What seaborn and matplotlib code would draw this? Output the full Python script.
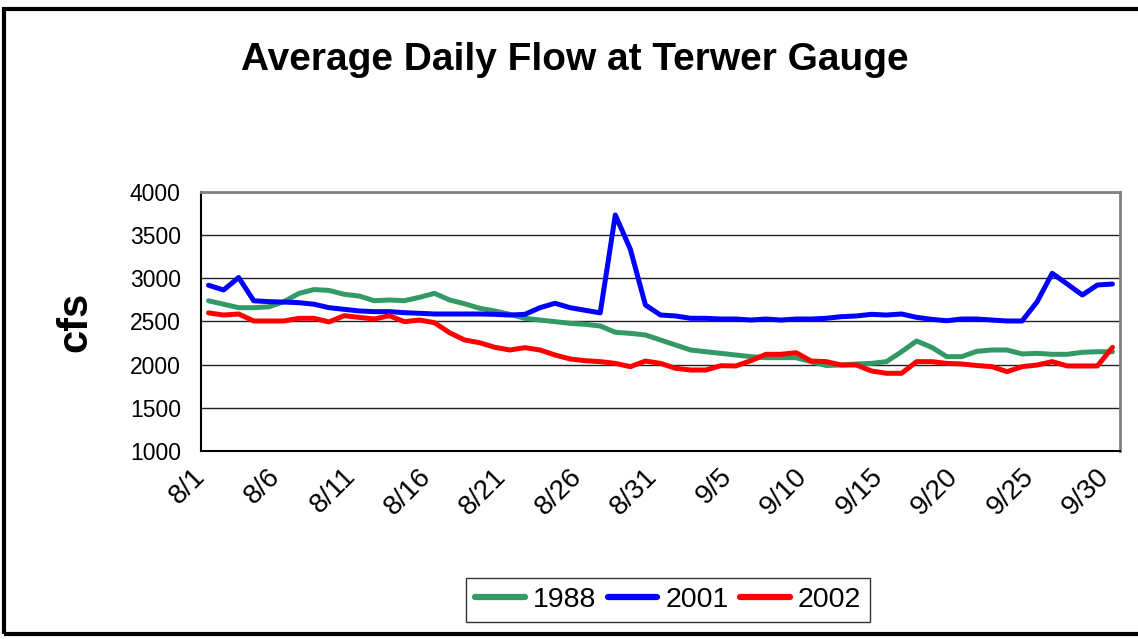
import numpy as np
import pandas as pd
import matplotlib
matplotlib.use("Agg")
import matplotlib.pyplot as plt
import matplotlib.transforms as mtransforms
from matplotlib.patches import Rectangle
from matplotlib.lines import Line2D
import seaborn as sns

# ---- data -------------------------------------------------------------
days = [d.strftime("%-m/%-d") for d in pd.date_range("2002-08-01", "2002-09-30")]

flow_1988 = [2740, 2700, 2660, 2660, 2670, 2730, 2825, 2870, 2860, 2815,
             2795, 2741, 2749, 2741, 2780, 2826, 2749, 2705, 2653, 2622,
             2583, 2537, 2517, 2498, 2479, 2467, 2448, 2375, 2363, 2344,
             2286, 2228, 2170, 2150, 2131, 2112, 2093, 2081, 2081, 2081,
             2035, 1990, 1996, 2008, 2015, 2035, 2150, 2274, 2201, 2093,
             2093, 2155, 2170, 2170, 2124, 2131, 2120, 2120, 2143, 2150,
             2150]
flow_2001 = [2920, 2865, 3010, 2740, 2730, 2725, 2718, 2700, 2660, 2641,
             2622, 2614, 2614, 2602, 2595, 2587, 2587, 2587, 2587, 2583,
             2575, 2583, 2660, 2711, 2660, 2630, 2600, 3734, 3336, 2691,
             2575, 2564, 2537, 2537, 2529, 2529, 2517, 2529, 2517, 2529,
             2529, 2537, 2556, 2564, 2583, 2575, 2587, 2548, 2525, 2509,
             2529, 2529, 2517, 2506, 2506, 2729, 3058, 2934, 2807, 2923,
             2934]
flow_2002 = [2600, 2575, 2587, 2506, 2506, 2506, 2537, 2537, 2495, 2567,
             2548, 2529, 2567, 2498, 2517, 2486, 2370, 2286, 2254, 2201,
             2170, 2197, 2170, 2112, 2066, 2046, 2035, 2015, 1977, 2042,
             2015, 1958, 1938, 1938, 1988, 1985, 2046, 2120, 2120, 2139,
             2042, 2035, 1996, 1996, 1927, 1900, 1900, 2035, 2035, 2015,
             2008, 1990, 1977, 1919, 1977, 1996, 2035, 1985, 1985, 1985,
             2201]

years = ["1988", "2001", "2002"]
colors = ["#339966", "#0000FF", "#FF0000"]
tick_labels = ["8/1", "8/6", "8/11", "8/16", "8/21", "8/26", "8/31",
               "9/5", "9/10", "9/15", "9/20", "9/25", "9/30"]
y_ticks = [1000, 1500, 2000, 2500, 3000, 3500, 4000]

# ---- styling ----------------------------------------------------------
sns.set_style("white")
plt.rcParams["font.family"] = ["Liberation Sans", "DejaVu Sans"]
for k in ["text.color", "axes.labelcolor", "xtick.color", "ytick.color"]:
    plt.rcParams[k] = "black"

W, H = 1138, 639
fig = plt.figure(figsize=(W / 100, H / 100), dpi=100)
fig.patch.set_facecolor("white")

ax = fig.add_axes([201 / W, 1 - 451 / H, (1120 - 201) / W, (451 - 192) / H])

n = len(days)
df = pd.DataFrame({
    "pos": np.tile(np.arange(n) + 0.5, 3),
    "flow": flow_1988 + flow_2001 + flow_2002,
    "year": np.repeat(years, n),
})

sns.lineplot(data=df, x="pos", y="flow", hue="year", palette=colors,
             linewidth=3.6, ax=ax, legend=False, solid_capstyle="round",
             solid_joinstyle="round")

ax.set_xlim(0, n)
ax.set_ylim(1000, 4000)
ax.set_xticks(np.arange(0, n, 5))
ax.set_xticklabels(tick_labels, rotation=45, ha="right", va="center",
                   rotation_mode="anchor", fontsize=20)
shift = mtransforms.ScaledTranslation(-8 / 100, -1 / 100, fig.dpi_scale_trans)
for lab in ax.get_xticklabels():
    lab.set_transform(lab.get_transform() + shift)
ax.set_yticks(y_ticks)
ax.set_yticklabels([str(v) for v in y_ticks], fontsize=16.5)
ax.tick_params(axis="both", direction="out", length=6.5, width=1, color="black")
ax.tick_params(axis="x", pad=9)
ax.tick_params(axis="y", pad=8)
ax.set_xlabel("")
ax.set_ylabel("cfs", fontsize=30, fontweight="bold", labelpad=25)

ax.yaxis.grid(True, color="#222222", linewidth=1.0)
ax.xaxis.grid(False)
ax.set_axisbelow(True)
for side in ["left", "bottom"]:
    ax.spines[side].set_color("black")
    ax.spines[side].set_linewidth(1.5)
for side in ["top", "right"]:
    ax.spines[side].set_color("#808080")
    ax.spines[side].set_linewidth(2)

fig.text(575 / W, 1 - 60 / H, "Average Daily Flow at Terwer Gauge",
         ha="center", va="center", fontsize=28, fontweight="bold")

handles = [Line2D([], [], color=c, linewidth=4.5, solid_capstyle="round") for c in colors]
leg = fig.legend(handles, years, loc="center",
                 bbox_to_anchor=(668 / W, 1 - 600 / H), ncol=3,
                 frameon=True, fancybox=False, edgecolor="black",
                 fontsize=20.5, handlelength=1.75, handletextpad=0.28,
                 columnspacing=0.4, borderpad=0.3, borderaxespad=0)
leg.get_frame().set_linewidth(1.0)

# outer chart border
fig.patches.append(Rectangle((4 / W, 1 - 634 / H), 1.0, (634 - 9) / H,
                             transform=fig.transFigure, fill=False,
                             edgecolor="black", linewidth=3, zorder=10))

fig.savefig("out.png", dpi=100, facecolor="white")
